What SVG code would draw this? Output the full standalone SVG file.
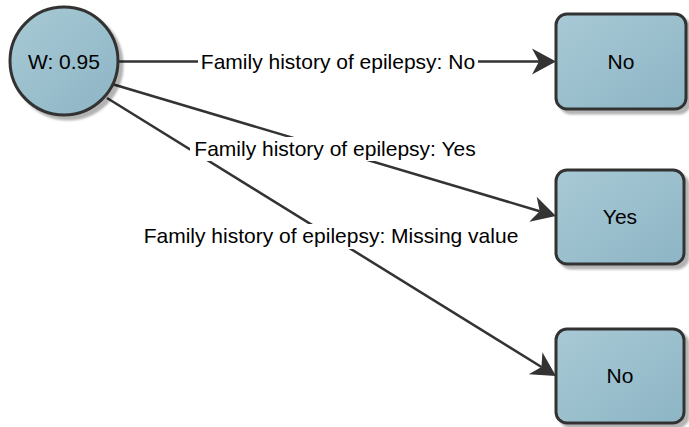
<svg xmlns="http://www.w3.org/2000/svg" width="689" height="427" viewBox="0 0 689 427">
  <style>
    .node { fill: url(#nodeFill); stroke: #333; stroke-width: 3; filter: url(#shadow); }
    .edge { fill: none; stroke: #333; stroke-width: 2.5; marker-end: url(#arrow); }
    .lbl-bg { fill: #fff; }
    text { font-family: "Liberation Sans", Arial, sans-serif; font-size: 21px; fill: #000; text-anchor: middle; }
  </style>
  <defs>
    <linearGradient id="nodeFill" x1="0" y1="0" x2="1" y2="1">
      <stop offset="0" stop-color="#a8c9d5"/>
      <stop offset="1" stop-color="#8db5c5"/>
    </linearGradient>
    <filter id="shadow" x="-10%" y="-10%" width="130%" height="130%">
      <feGaussianBlur in="SourceAlpha" stdDeviation="1"/>
      <feOffset dx="4" dy="4" result="off"/>
      <feFlood flood-color="#000" flood-opacity="0.3"/>
      <feComposite in2="off" operator="in" result="sh"/>
      <feMerge>
        <feMergeNode in="sh"/>
        <feMergeNode in="SourceGraphic"/>
      </feMerge>
    </filter>
    <marker id="arrow" markerUnits="userSpaceOnUse" markerWidth="30" markerHeight="30" viewBox="0 -15 30 30" refX="7" refY="0" orient="auto" overflow="visible">
      <path d="M24,0 L0,-13 L7,0 L0,13 Z" fill="#333"/>
    </marker>
  </defs>

  <!-- connectors -->
  <g id="edges">
    <line class="edge" x1="118" y1="61.5" x2="539" y2="61.5"/>
    <line class="edge" x1="112" y1="84" x2="539.7" y2="211.2"/>
    <line class="edge" x1="107" y1="98" x2="541.5" y2="367"/>

    <rect class="lbl-bg" x="198" y="50" width="280" height="23"/>
    <text x="338" y="68.5">Family history of epilepsy: No</text>

    <rect class="lbl-bg" x="190" y="137" width="290" height="24"/>
    <text x="335" y="156">Family history of epilepsy: Yes</text>

    <rect class="lbl-bg" x="141" y="224" width="381" height="25"/>
    <text x="331" y="243">Family history of epilepsy: Missing value</text>
  </g>

  <g id="root">
    <circle class="node" cx="64" cy="61" r="54"/>
    <text x="64" y="68.5">W: 0.95</text>
  </g>

  <g id="leaf-no">
    <rect class="node" x="556" y="14" width="130" height="95" rx="11"/>
    <text x="621" y="69">No</text>
  </g>

  <g id="leaf-yes">
    <rect class="node" x="556" y="170" width="128" height="94" rx="11"/>
    <text x="620" y="224">Yes</text>
  </g>

  <g id="leaf-missing">
    <rect class="node" x="556" y="329" width="128" height="94" rx="11"/>
    <text x="620" y="383">No</text>
  </g>
</svg>
